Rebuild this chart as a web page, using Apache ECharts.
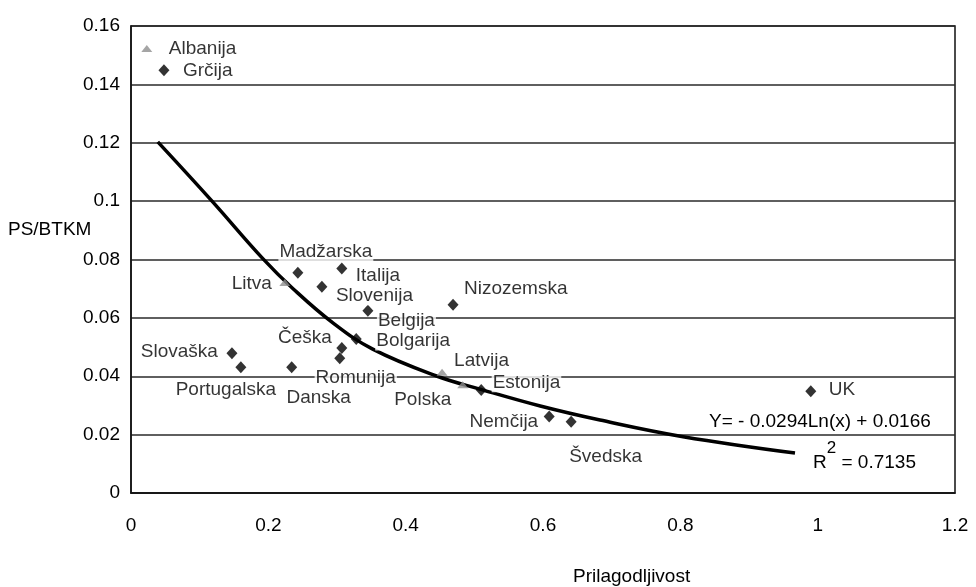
<!DOCTYPE html>
<html>
<head>
<meta charset="utf-8">
<script src="https://cdn.jsdelivr.net/npm/echarts@6/dist/echarts.min.js"></script>
<style>
html,body{margin:0;padding:0;background:#fff;}
#chart{width:976px;height:587px;}
</style>
</head>
<body>
<div id="chart"></div>
<script>
// ---- data ----
const diamondNames = ['Grčija','Madžarska','Italija','Slovenija','Belgija','Bolgarija','Češka','Romunija','Slovaška','Portugalska','Danska','Nizozemska','Polska','Nemčija','Švedska','UK'];
const diamondX = [0.048,0.243,0.307,0.278,0.345,0.328,0.307,0.304,0.147,0.160,0.234,0.469,0.510,0.609,0.641,0.990];
const diamondY = [0.1448,0.0755,0.0769,0.0707,0.0624,0.0528,0.0497,0.0462,0.0479,0.0431,0.0431,0.0645,0.0353,0.0262,0.0244,0.0349];

const triangleNames = ['Albanija','Litva','Latvija','Estonija'];
const triangleX = [0.023,0.224,0.453,0.483];
const triangleY = [0.1523,0.0721,0.0414,0.0371];

// trend curve, points
const trendX = [0.039,0.118,0.192,0.236,0.294,0.352,0.446,0.508,0.596,0.683,0.804,0.967];
const trendY = [0.1203,0.1000,0.0803,0.0700,0.0583,0.0493,0.0400,0.0356,0.0298,0.0250,0.0193,0.0137];

const xTickLabels = ['0','0.2','0.4','0.6','0.8','1','1.2'];
const yTickLabels = ['0','0.02','0.04','0.06','0.08','0.1','0.12','0.14','0.16'];

const xAxisTitle = 'Prilagodljivost';
const yAxisTitle = 'PS/BTKM';
const equationText = 'Y= - 0.0294Ln(x) + 0.0166';
const r2Value = '0.7135';

// ---- label layout (style, not data): [align, dx, dy] ----
const labelLayout = {
  'Albanija':['left',21,0],
  'Grčija':['left',18,0],
  'Madžarska':['center',28,-21],
  'Italija':['left',13,7],
  'Litva':['right',-12,1],
  'Slovenija':['left',13,9],
  'Belgija':['left',9,10],
  'Bolgarija':['left',19,2],
  'Češka':['right',-9,-10],
  'Romunija':['center',16,20],
  'Slovaška':['right',-13,-1],
  'Portugalska':['center',-15,23],
  'Danska':['center',27,31],
  'Polska':['right',-29,10],
  'Estonija':['left',29,-2],
  'Nizozemska':['left',10,-16],
  'Latvija':['left',11,-11],
  'Nemčija':['right',-10,5],
  'Švedska':['left',-3,35],
  'UK':['left',17,-1]
};

const FONT = "'Liberation Sans', Arial, sans-serif";
const FS = 19;
const TXT = '#000';

function buildPoints(names, xs, ys) {
  return names.map((n, i) => {
    const l = labelLayout[n];
    return {
      name: n,
      value: [xs[i], ys[i]],
      label: { align: l[0], offset: [l[1], l[2]] }
    };
  });
}

const chart = echarts.init(document.getElementById('chart'), null, {renderer:'canvas'});

const labelBase = {
  show: true,
  position: 'inside',
  formatter: '{b}',
  color: TXT,
  fontSize: FS,
  fontFamily: FONT,
  verticalAlign: 'middle',
  backgroundColor: '#fff',
  padding: [0, 1]
};

const option = {
  animation: false,
  backgroundColor: '#fff',
  grid: {
    left: 131, right: 21, top: 26, bottom: 94,
    show: true, borderColor: '#111', borderWidth: 1.5, backgroundColor: '#fff'
  },
  xAxis: {
    type: 'value', min: 0, max: 1.2, interval: 0.2,
    axisLine: { show: true, onZero: false, lineStyle: { color: '#111', width: 1.5 } },
    axisTick: { show: false },
    splitLine: { show: false },
    axisLabel: {
      color: TXT, fontSize: FS, fontFamily: FONT, margin: 23,
      formatter: v => xTickLabels[Math.round(v / 0.2)]
    }
  },
  yAxis: {
    type: 'value', min: 0, max: 0.16, interval: 0.02,
    axisLine: { show: true, onZero: false, lineStyle: { color: '#111', width: 1.5 } },
    axisTick: { show: false },
    splitLine: { show: true, lineStyle: { color: '#2a2a2a', width: 1.5 } },
    axisLabel: {
      color: TXT, fontSize: FS, fontFamily: FONT, margin: 11,
      formatter: v => yTickLabels[Math.round(v / 0.02)]
    }
  },
  series: [
    {
      type: 'line',
      data: trendX.map((x, i) => [x, trendY[i]]),
      smooth: 0.4,
      showSymbol: false,
      symbol: 'none',
      lineStyle: { color: '#000', width: 3.5 },
      z: 3,
      silent: true
    },
    {
      type: 'scatter',
      data: buildPoints(triangleNames, triangleX, triangleY),
      symbol: 'triangle',
      symbolSize: [11, 7],
      itemStyle: { color: '#8f8f8f' },
      label: labelBase,
      z: 4
    },
    {
      type: 'scatter',
      data: buildPoints(diamondNames, diamondX, diamondY),
      symbol: 'diamond',
      symbolSize: [11, 12],
      itemStyle: { color: '#000' },
      label: labelBase,
      z: 5
    }
  ],
  graphic: [
    {
      type: 'text', left: 8, top: 220,
      style: { text: yAxisTitle, fontSize: FS, fontFamily: FONT, fill: TXT }
    },
    {
      type: 'text', left: 573, top: 567,
      style: { text: xAxisTitle, fontSize: FS, fontFamily: FONT, fill: TXT }
    },
    {
      type: 'text', left: 709, top: 412, z: 10,
      style: { text: equationText, fontSize: FS, fontFamily: FONT, fill: TXT, backgroundColor: '#fff' }
    },
    {
      type: 'text', left: 813, top: 440, z: 10,
      style: {
        text: '{r|R}{s|2}{r| = ' + r2Value + '}',
        fill: TXT,
        rich: {
          r: { fontSize: FS, fontFamily: FONT, fill: TXT, color: TXT, lineHeight: 32, verticalAlign: 'bottom' },
          s: { fontSize: 17, fontFamily: FONT, fill: TXT, color: TXT, lineHeight: 20, verticalAlign: 'top' }
        }
      }
    }
  ]
};

chart.setOption(option);
</script>
</body>
</html>
